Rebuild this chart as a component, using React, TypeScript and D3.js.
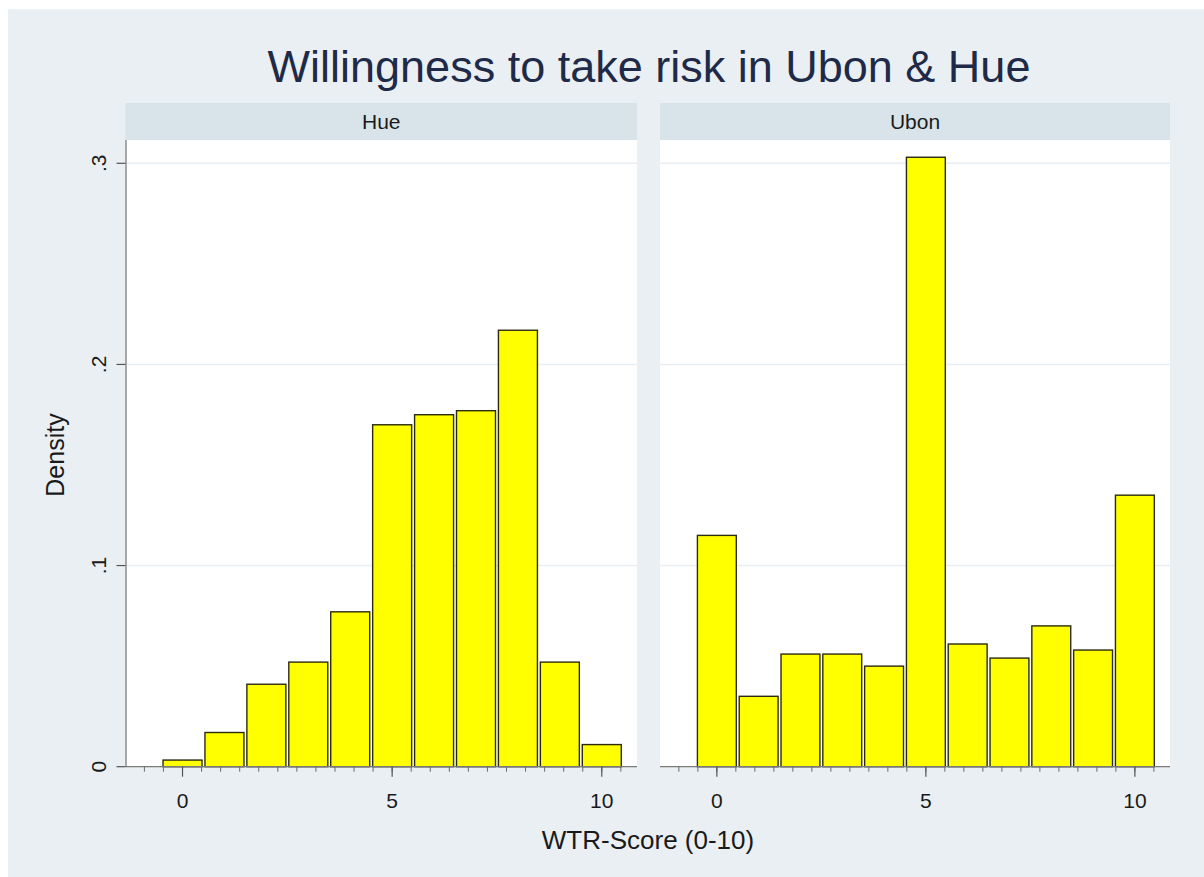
import React from "react";
import * as d3 from "d3";

const scores = [0, 1, 2, 3, 4, 5, 6, 7, 8, 9, 10];
const hueDensity = [0.0033, 0.017, 0.041, 0.052, 0.077, 0.170, 0.175, 0.177, 0.217, 0.052, 0.011];
const ubonDensity = [0.115, 0.035, 0.056, 0.056, 0.050, 0.303, 0.061, 0.054, 0.070, 0.058, 0.135];
const panelNames = ["Hue", "Ubon"];
const xMajorTicks = [0, 5, 10];
const yMajorTicks = [0, 0.1, 0.2, 0.3];
const yTickLabels = ["0", ".1", ".2", ".3"];

const W = 1204;
const H = 877;
const FONT = "'Liberation Sans', Arial, sans-serif";

const panels = [
  { name: panelNames[0], values: hueDensity, x0: 125.5, x1: 637, showY: true },
  { name: panelNames[1], values: ubonDensity, x0: 660, x1: 1170, showY: false },
];

const plotTop = 140;
const headerTop = 103;
const y = d3.scaleLinear().domain([0, 0.3]).range([766.7, 163.3]);
const minorStep = 5 / 11;
const minorTicks = d3.range(-2, 24).map((k) => k * minorStep);

export default function App() {
  return (
    <svg
      width={W}
      height={H}
      style={{ position: "absolute", left: 0, top: 0, fontFamily: FONT }}
    >
      <rect x={0} y={0} width={W} height={H} fill="#ffffff" />
      <rect x={8} y={9} width={W - 8} height={H - 9} fill="#e9eff2" />
      <text x={649} y={82} textAnchor="middle" fontSize={45} fill="#1e2a48">
        Willingness to take risk in Ubon &amp; Hue
      </text>
      {panels.map((p) => {
        const x = d3.scaleLinear().domain([-1.36, 10.84]).range([p.x0, p.x1]);
        const bw = x(0.93) - x(0);
        const y0 = y(0);
        return (
          <g key={p.name}>
            <rect x={p.x0} y={headerTop} width={p.x1 - p.x0} height={plotTop - headerTop} fill="#d9e4ea" />
            <text x={(p.x0 + p.x1) / 2} y={129} textAnchor="middle" fontSize={21} fill="#1a1a1a">
              {p.name}
            </text>
            <rect x={p.x0} y={plotTop} width={p.x1 - p.x0} height={y0 - plotTop} fill="#ffffff" />
            {yMajorTicks.slice(1).map((t) => (
              <line key={t} x1={p.x0} x2={p.x1} y1={y(t)} y2={y(t)} stroke="#e8eef1" strokeWidth={1.5} />
            ))}
            {p.values.map((v, i) => (
              <rect
                key={i}
                x={x(scores[i]) - bw / 2}
                y={y(v)}
                width={bw}
                height={y0 - y(v)}
                fill="#ffff00"
                stroke="#2b2b10"
                strokeWidth={1.4}
              />
            ))}
            <line x1={p.x0} x2={p.x1} y1={y0} y2={y0} stroke="#7a7a7a" strokeWidth={1.3} />
            {minorTicks
              .filter((t) => x(t) >= p.x0 && x(t) <= p.x1)
              .map((t, i) => (
                <line key={"m" + i} x1={x(t)} x2={x(t)} y1={y0} y2={y0 + 5} stroke="#6a6a6a" strokeWidth={1} />
              ))}
            {xMajorTicks.map((t) => (
              <g key={"t" + t}>
                <line x1={x(t)} x2={x(t)} y1={y0} y2={y0 + 10} stroke="#555" strokeWidth={1.2} />
                <text x={x(t)} y={y0 + 41} textAnchor="middle" fontSize={21} fill="#1a1a1a">
                  {t}
                </text>
              </g>
            ))}
            {p.showY && (
              <g>
                <line x1={p.x0 + 0.5} x2={p.x0 + 0.5} y1={plotTop} y2={y0} stroke="#7a7a7a" strokeWidth={1.3} />
                {yMajorTicks.map((t, i) => (
                  <g key={"y" + t}>
                    <line x1={p.x0 - 9} x2={p.x0} y1={y(t)} y2={y(t)} stroke="#555" strokeWidth={1.2} />
                    <text
                      transform={`translate(${p.x0 - 20},${y(t)}) rotate(-90)`}
                      textAnchor="middle"
                      fontSize={21}
                      fill="#1a1a1a"
                    >
                      {yTickLabels[i]}
                    </text>
                  </g>
                ))}
              </g>
            )}
          </g>
        );
      })}
      <text transform={`translate(64,455) rotate(-90)`} textAnchor="middle" fontSize={25} fill="#1a1a1a">
        Density
      </text>
      <text x={648} y={849} textAnchor="middle" fontSize={26} fill="#1a1a1a">
        WTR-Score (0-10)
      </text>
    </svg>
  );
}
